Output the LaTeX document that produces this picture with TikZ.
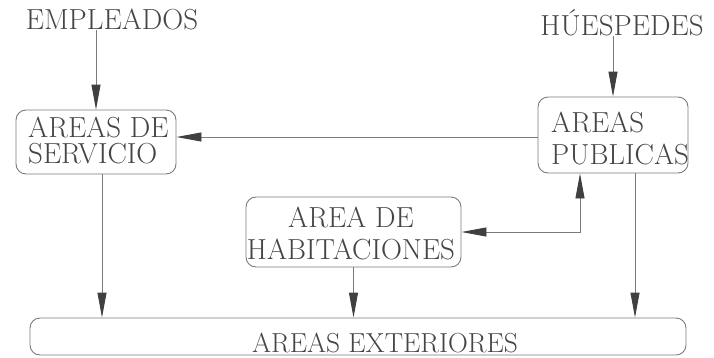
\documentclass[tikz,border=0pt]{standalone}
\usetikzlibrary{arrows.meta}
\definecolor{txt}{HTML}{454545}
\definecolor{ln}{HTML}{7A7A7A}
\definecolor{tip}{HTML}{404040}
\tikzset{
  lbl/.style={inner sep=0pt, text=txt, font=\fontsize{29}{30}\selectfont},
  boxx/.style={draw=ln, line width=0.9pt, rounded corners=10pt, inner sep=0pt},
  conn/.style={draw=ln, line width=0.9pt},
  arr/.style={conn, -{Triangle[length=25pt,width=9pt,color=tip,fill=tip]}},
  darr/.style={conn, {Triangle[length=25pt,width=9pt,color=tip,fill=tip]}-{Triangle[length=25pt,width=9pt,color=tip,fill=tip]}}
}
\begin{document}
\begin{tikzpicture}[x=1pt,y=-1pt]
\useasboundingbox (0,0) rectangle (714,357);
% boxes
\node[boxx, minimum width=160pt, minimum height=64pt] (sbox) at (96,142) {};
\node[boxx, minimum width=150pt, minimum height=76pt] (pbox) at (613,135) {};
\node[boxx, minimum width=215pt, minimum height=70pt] (hbox) at (353.5,232) {};
\node[boxx, minimum width=656pt, minimum height=37pt] (ebox) at (358,336.5) {};
% texts
\node[lbl, anchor=base] (emp) at (112,29) {EMPLEADOS};
\node[lbl, anchor=base] (hue) at (622,35) {HÚESPEDES};
\node[lbl, anchor=north west, align=left, font=\fontsize{29}{26}\selectfont] (stxt) at (28,117.2) {AREAS DE\\SERVICIO};
\node[lbl, anchor=north west, align=left, font=\fontsize{29}{32}\selectfont] (ptxt) at (551,112.2) {AREAS\\PUBLICAS};
\node[lbl, anchor=north, align=center, font=\fontsize{29}{32}\selectfont] (htxt) at (351,207.2) {AREA DE\\HABITACIONES};
\node[lbl, anchor=base, font=\fontsize{27.5}{29}\selectfont] (etxt) at (385,352) {AREAS EXTERIORES};
% connectors
\draw[arr] (emp.south -| sbox.north) -- (sbox.north);
\draw[arr] (hue.south -| pbox.north) -- (pbox.north);
\draw[arr] ([yshift=-2pt]pbox.west) coordinate (a) -- (a -| sbox.east);
\draw[arr] ([xshift=6pt]sbox.south) coordinate (b) -- (b |- ebox.north);
\draw[arr] (hbox.south) -- (hbox.south |- ebox.north);
\draw[darr] (hbox.east) -| ([xshift=-33pt]pbox.south);
\draw[arr] ([xshift=22pt]pbox.south) coordinate (c) -- (c |- ebox.north);
\end{tikzpicture}
\end{document}
